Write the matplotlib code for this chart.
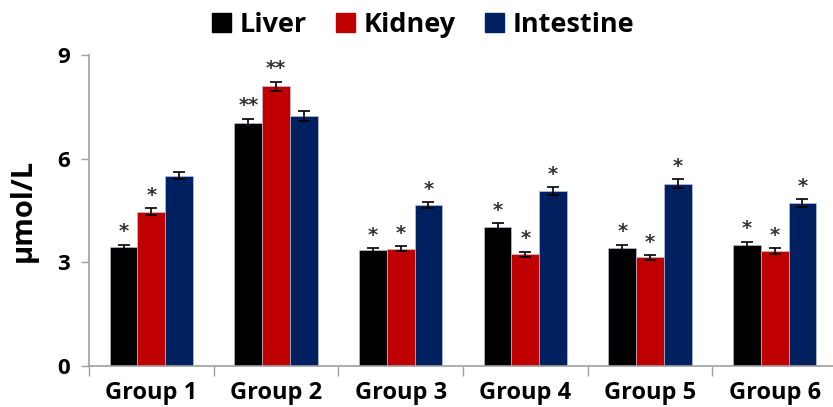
import matplotlib
matplotlib.use("Agg")
import matplotlib.pyplot as plt
import numpy as np
from matplotlib.patches import Patch

groups = ["Group 1", "Group 2", "Group 3", "Group 4", "Group 5", "Group 6"]
series = ["Liver", "Kidney", "Intestine"]
liver = [3.45, 7.02, 3.36, 4.03, 3.41, 3.51]
kidney = [4.47, 8.09, 3.39, 3.23, 3.14, 3.33]
intestine = [5.51, 7.23, 4.65, 5.07, 5.28, 4.71]
liver_err = [0.06, 0.13, 0.05, 0.10, 0.10, 0.09]
kidney_err = [0.10, 0.14, 0.07, 0.08, 0.07, 0.08]
intestine_err = [0.11, 0.14, 0.09, 0.11, 0.12, 0.12]
liver_sig = ["*", "**", "*", "*", "*", "*"]
kidney_sig = ["*", "**", "*", "*", "*", "*"]
intestine_sig = ["", "", "*", "*", "*", "*"]
yticks = [0, 3, 6, 9]
colors = ["#000000", "#c00000", "#002060"]

plt.rcParams['font.family'] = ['Open Sans', 'DejaVu Sans']

fig = plt.figure(figsize=(8.33, 4.07), dpi=100)
ax = fig.add_axes([89/833, 41/407, 748/833, 311/407])

x = np.arange(len(groups))
w = 0.222
vals = [liver, kidney, intestine]
errs = [liver_err, kidney_err, intestine_err]
sigs = [liver_sig, kidney_sig, intestine_sig]
for i in range(3):
    pos = x + (i - 1) * w
    ax.bar(pos, vals[i], width=w, color=colors[i], edgecolor="#c8cde0", linewidth=0.4, zorder=2)
    ax.errorbar(pos, vals[i], yerr=errs[i], fmt="none", ecolor="black", elinewidth=1.2,
                capsize=4, capthick=1.2, zorder=3)
    for p, v, e, s in zip(pos, vals[i], errs[i], sigs[i]):
        if s:
            ax.text(p, v + e + 0.1, s, ha="center", va="bottom", fontsize=14,
                    color="#333333", family="DejaVu Sans", fontweight="bold")

ax.set_xlim(-0.5, 5.5)
ax.set_ylim(0, 9)
ax.set_yticks(yticks)
ax.set_yticklabels([str(t) for t in yticks], fontsize=16, fontweight="bold")
ax.set_xticks(np.arange(-0.5, 6.0, 1.0))
ax.set_xticklabels([])
ax.set_xticks(x, minor=True)
ax.set_xticklabels(groups, minor=True, fontsize=17, fontweight="bold")
ax.tick_params(axis="x", which="minor", length=0, pad=10.5)
ax.tick_params(axis="x", which="major", length=7, color="#a0a0a0", width=1)
ax.tick_params(axis="y", length=6, color="#a0a0a0", width=1, pad=8)
for s in ["top", "right"]:
    ax.spines[s].set_visible(False)
for s in ["left", "bottom"]:
    ax.spines[s].set_color("#a0a0a0")
    ax.spines[s].set_linewidth(1.2)
ax.set_ylabel("μmol/L", fontsize=21, fontweight="bold", labelpad=14)

handles = [Patch(facecolor=c, edgecolor=c) for c in colors]
fig.legend(handles, series, loc="upper center", bbox_to_anchor=(0.508, 1.03), ncol=3,
           frameon=False, prop={"size": 19.5, "weight": "bold"}, handlelength=0.7,
           handleheight=0.7, handletextpad=0.3, columnspacing=1.1)

fig.savefig("out.png", dpi=100)
